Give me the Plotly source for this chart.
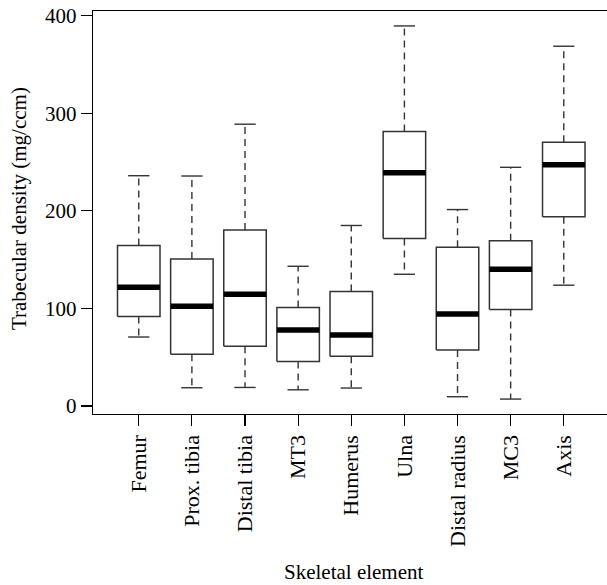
import plotly.graph_objects as go

categories = ["Femur", "Prox. tibia", "Distal tibia", "MT3", "Humerus",
              "Ulna", "Distal radius", "MC3", "Axis"]
lower_whisker = [70.7, 18.7, 19.0, 16.6, 18.4, 135.0, 9.5, 7.1, 123.8]
q1 = [91.8, 53.0, 61.2, 45.6, 51.0, 171.7, 57.4, 99.0, 193.9]
median = [121.7, 102.3, 114.6, 77.9, 72.8, 239.1, 94.2, 140.1, 247.2]
q3 = [164.6, 150.7, 180.3, 101.0, 117.3, 281.3, 162.6, 169.4, 270.4]
upper_whisker = [236.0, 235.7, 288.8, 143.2, 185.0, 389.5, 201.3, 244.6, 368.7]
y_ticks = [0, 100, 200, 300, 400]

FONT = "Liberation Serif"
FS = 21
BOXW = 0.4
CAPW = 0.2
EDGE = "#333333"

fig = go.Figure()

wx, wy, cx, cy, bx, by, mx, my = [], [], [], [], [], [], [], []
for i, name in enumerate(categories):
    p = i + 1
    wx += [p, p, None, p, p, None]
    wy += [q3[i], upper_whisker[i], None, q1[i], lower_whisker[i], None]
    cx += [p - CAPW, p + CAPW, None, p - CAPW, p + CAPW, None]
    cy += [upper_whisker[i], upper_whisker[i], None, lower_whisker[i], lower_whisker[i], None]
    bx += [p - BOXW, p + BOXW, p + BOXW, p - BOXW, p - BOXW, None]
    by += [q1[i], q1[i], q3[i], q3[i], q1[i], None]
    mx += [p - BOXW, p + BOXW, None]
    my += [median[i], median[i], None]

fig.add_trace(go.Scatter(x=wx, y=wy, mode="lines", hoverinfo="skip",
                         line=dict(color=EDGE, width=1.4, dash="7px,5px")))
fig.add_trace(go.Scatter(x=cx, y=cy, mode="lines", hoverinfo="skip",
                         line=dict(color=EDGE, width=1.4)))
fig.add_trace(go.Scatter(x=bx, y=by, mode="lines", hoverinfo="skip",
                         line=dict(color=EDGE, width=1.5)))
fig.add_trace(go.Scatter(x=mx, y=my, mode="lines", hoverinfo="skip",
                         line=dict(color="black", width=5.5)))

W, H = 607, 585
ML = 92.5
MT = 10.7
MB = H - 414.3
pw = W - ML
ph = H - MT - MB
spacing = 53.18
x0 = 1 - (138.3 - 92.5) / spacing
x1 = x0 + pw / spacing

fig.update_layout(
    width=W, height=H,
    margin=dict(l=ML, r=0, t=MT, b=MB, pad=0, autoexpand=False),
    paper_bgcolor="white", plot_bgcolor="white",
    showlegend=False,
    font=dict(family=FONT, size=FS, color="black"),
    xaxis=dict(range=[x0, x1], tickvals=list(range(1, len(categories) + 1)),
               ticktext=categories, tickangle=-90, ticks="outside", ticklen=11,
               tickwidth=1.2, tickcolor="black", showline=True, linecolor="black",
               linewidth=1.3, mirror=True, showgrid=False, zeroline=False,
               automargin=False, ticklabeloverflow="allow",
               tickfont=dict(family=FONT, size=22, color="black")),
    yaxis=dict(range=[-8.2, 404.8], tickvals=y_ticks, ticks="outside", ticklen=11,
               tickwidth=1.2, tickcolor="black", showline=True, linecolor="black",
               linewidth=1.3, mirror=False, showgrid=False, zeroline=False,
               automargin=False, ticklabeloverflow="allow",
               tickfont=dict(family=FONT, size=FS, color="black")),
    annotations=[
        dict(text="Trabecular density (mg/ccm)", xref="paper", yref="paper",
             x=(18 - 92.5) / pw, y=(414.3 - 208.5) / ph, xanchor="center",
             yanchor="middle", textangle=-90, showarrow=False,
             font=dict(family=FONT, size=FS, color="black")),
        dict(text="Skeletal element", xref="paper", yref="paper",
             x=(354 - 92.5) / pw, y=(414.3 - 573) / ph, xanchor="center",
             yanchor="middle", showarrow=False,
             font=dict(family=FONT, size=FS, color="black")),
    ],
)

fig.write_html("out.html",
               config={"displayModeBar": False, "staticPlot": True},
               post_script="document.body.style.margin='0';document.body.style.overflow='hidden';")
